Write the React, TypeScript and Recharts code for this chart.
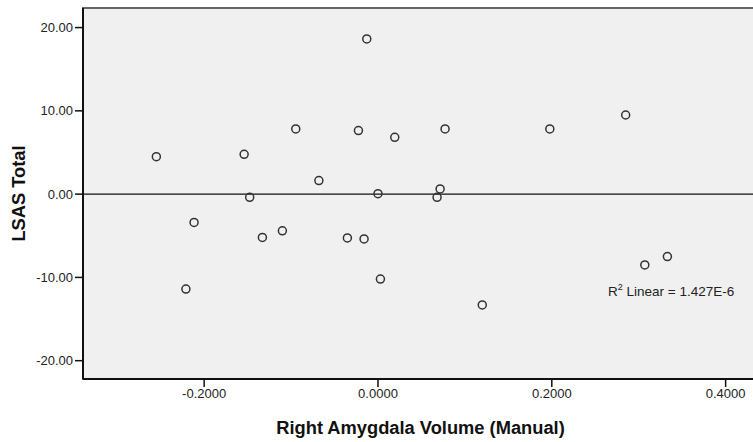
import React from 'react';
import { ScatterChart, Scatter, XAxis, YAxis, ReferenceLine, ReferenceArea, Label } from 'recharts';

const rightAmygdalaVolume = [
  -0.255, -0.221, -0.2116, -0.154, -0.1476, -0.133, -0.110, -0.0946, -0.068,
  -0.0352, -0.0225, -0.016, -0.0129, 0.0, 0.0028, 0.0193, 0.068, 0.0715,
  0.0772, 0.120, 0.1977, 0.285, 0.307, 0.333,
];
const lsasTotal = [
  4.5, -11.4, -3.4, 4.78, -0.38, -5.2, -4.4, 7.83, 1.63,
  -5.26, 7.63, -5.38, 18.64, 0.05, -10.2, 6.82, -0.38, 0.62,
  7.83, -13.3, 7.83, 9.5, -8.5, -7.5,
];
const xTicks = [-0.2, 0, 0.2, 0.4];
const yTicks = [-20, -10, 0, 10, 20];
const xDomain: [number, number] = [-0.3394, 0.4338];
const yDomain: [number, number] = [-22.2, 22.35];
const r2Text = { label: 'Linear = 1.427E-6' };

const data = rightAmygdalaVolume.map((x, i) => ({ x, y: lsasTotal[i] }));

const FONT = '"Liberation Sans", Arial, sans-serif';

const Marker = (p: any) => (
  <circle cx={p.cx} cy={p.cy} r={4} fill="none" stroke="#333" strokeWidth={1.5} />
);

export default function App() {
  return (
    <div style={{ position: 'absolute', left: 0, top: 0, width: 753, height: 442, background: '#fff', fontFamily: FONT, overflow: 'hidden' }}>
      <ScatterChart width={756} height={442} margin={{ top: 8, right: 1, bottom: 0, left: 0 }}>
        <ReferenceArea
          x1={xDomain[0]}
          x2={xDomain[1]}
          y1={yDomain[0]}
          y2={yDomain[1]}
          fill="#f0f0f0"
          fillOpacity={1}
          stroke="#666"
          strokeWidth={2}
          ifOverflow="visible"
        />
        <XAxis
          type="number"
          dataKey="x"
          domain={xDomain}
          ticks={xTicks}
          allowDataOverflow
          height={63}
          tickSize={8}
          tickFormatter={(v: number) => v.toFixed(4)}
          tick={{ fontSize: 13, fill: '#222', fontFamily: FONT }}
          axisLine={{ stroke: '#111', strokeWidth: 2 }}
          tickLine={{ stroke: '#111', strokeWidth: 1.5 }}
        >
          <Label
            content={(props: any) => {
              const vb = props.viewBox || { x: 83, y: 379, width: 672, height: 63 };
              return (
                <text
                  x={420.5}
                  y={vb.y + 55}
                  textAnchor="middle"
                  fontSize={18.3}
                  fontWeight="bold"
                  fill="#111"
                  fontFamily={FONT}
                >
                  Right Amygdala Volume (Manual)
                </text>
              );
            }}
          />
        </XAxis>
        <YAxis
          type="number"
          dataKey="y"
          domain={yDomain}
          ticks={yTicks}
          allowDataOverflow
          width={83}
          tickSize={8}
          tickFormatter={(v: number) => v.toFixed(2)}
          tick={{ fontSize: 13, fill: '#222', fontFamily: FONT }}
          axisLine={{ stroke: '#111', strokeWidth: 2 }}
          tickLine={{ stroke: '#111', strokeWidth: 1.5 }}
        >
          <Label
            content={(props: any) => {
              const vb = props.viewBox || { x: 0, y: 8, width: 83, height: 371 };
              const cx = vb.x + 25;
              const cy = vb.y + vb.height / 2;
              return (
                <text
                  x={cx}
                  y={cy}
                  transform={`rotate(-90 ${cx} ${cy})`}
                  textAnchor="middle"
                  fontSize={18.3}
                  fontWeight="bold"
                  fill="#111"
                  fontFamily={FONT}
                >
                  LSAS Total
                </text>
              );
            }}
          />
        </YAxis>
        <ReferenceLine y={0} stroke="#111" strokeWidth={1.2} />
        <Scatter data={data} shape={Marker} isAnimationActive={false} />
      </ScatterChart>
      <div
        style={{
          position: 'absolute',
          left: 608,
          top: 284,
          fontSize: 13.5,
          color: '#222',
          fontFamily: FONT,
          whiteSpace: 'nowrap',
          lineHeight: '16px',
        }}
      >
        R<sup style={{ fontSize: 9, verticalAlign: 'top', lineHeight: '10px', position: 'relative', top: -2 }}>2</sup> {r2Text.label}
      </div>
    </div>
  );
}
